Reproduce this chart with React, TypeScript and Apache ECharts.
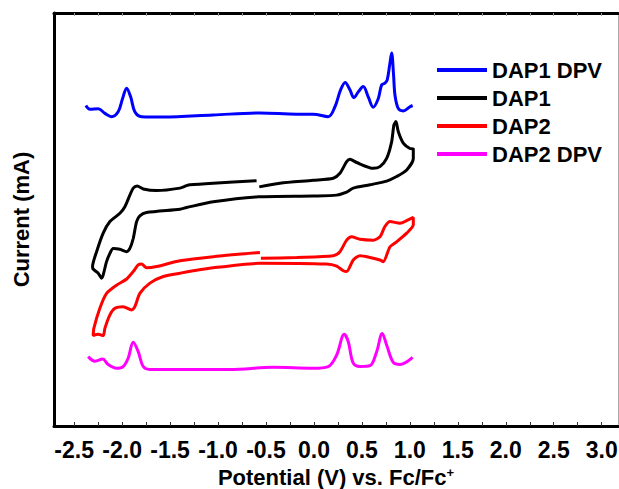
import React, { useEffect, useRef } from "react";
import * as echarts from "echarts";

// Potential (V vs Fc/Fc+) and current (arbitrary offset units)
const dap1DpvV = [-2.378, -2.336, -2.249, -2.179, -2.11, -2.041, -1.995, -1.953, -1.911, -1.867, -1.797, -1.571, -1.053, -0.563, -0.18, -0.007, 0.149, 0.219, 0.278, 0.326, 0.375, 0.417, 0.462, 0.514, 0.566, 0.618, 0.671, 0.706, 0.74, 0.764, 0.79, 0.81, 0.83, 0.845, 0.879, 0.931, 1.001, 1.029];
const dap1DpvI = [77.6, 76.7, 76.8, 75.7, 74.9, 76.1, 79.3, 81.8, 79.7, 76.1, 74.9, 74.8, 75.3, 75.8, 75.5, 75.5, 74.9, 77.3, 81.4, 83.2, 81.4, 79.5, 80.9, 82.2, 79.7, 77.2, 79.3, 82.6, 83.0, 83.8, 87.5, 90.3, 85.0, 80.1, 76.9, 76.3, 77.3, 77.6];

const dap1V = [-0.57, -0.355, -0.007, 0.201, 0.271, 0.341, 0.375, 0.445, 0.618, 0.688, 0.758, 0.81, 0.834, 0.855, 0.879, 0.931, 1.001, 1.036, 1.036, 0.967, 0.862, 0.758, 0.584, 0.41, 0.341, 0.237, -0.007, -0.581, -1.05, -1.328, -1.397, -1.745, -1.815, -1.849, -1.884, -1.919, -1.953, -2.023, -2.093, -2.127, -2.162, -2.197, -2.214, -2.249, -2.302, -2.308, -2.266, -2.197, -2.127, -2.023, -1.971, -1.919, -1.884, -1.843, -1.78, -1.64, -1.397, -1.328, -1.293, -1.05, -0.598];
const dap1I = [57.9, 58.8, 59.5, 60.0, 61.2, 64.0, 64.6, 63.8, 62.4, 62.8, 64.8, 68.8, 72.9, 73.7, 71.3, 68.5, 67.2, 67.1, 64.8, 62.0, 60.4, 59.3, 58.4, 57.6, 56.6, 55.9, 55.7, 55.5, 54.3, 52.9, 52.5, 51.7, 50.9, 49.5, 45.4, 43.0, 42.2, 42.8, 43.0, 41.8, 39.8, 36.6, 35.8, 37.0, 38.0, 38.6, 42.2, 46.7, 49.5, 51.5, 53.1, 55.9, 57.6, 58.1, 57.4, 57.0, 57.6, 58.2, 58.4, 58.8, 59.4];

const dap2V = [-0.553, -0.18, 0.201, 0.271, 0.341, 0.393, 0.48, 0.618, 0.688, 0.74, 0.793, 0.897, 0.983, 1.036, 1.036, 0.967, 0.862, 0.793, 0.723, 0.688, 0.584, 0.48, 0.41, 0.341, 0.306, 0.237, 0.132, -0.563, -1.05, -1.397, -1.571, -1.71, -1.815, -1.867, -1.901, -1.989, -2.075, -2.127, -2.179, -2.197, -2.249, -2.302, -2.294, -2.232, -2.162, -2.058, -1.953, -1.884, -1.832, -1.797, -1.745, -1.64, -1.397, -1.05, -0.563];
const dap2I = [40.6, 40.8, 41.2, 42.2, 45.0, 45.8, 45.2, 45.0, 45.8, 48.3, 49.5, 49.1, 49.9, 50.5, 48.7, 46.7, 44.6, 43.4, 39.8, 40.2, 40.8, 41.2, 40.2, 37.4, 37.6, 38.7, 39.2, 39.4, 38.3, 37.0, 36.2, 34.6, 32.1, 28.9, 28.1, 28.9, 28.5, 26.9, 23.7, 21.9, 22.2, 21.9, 23.7, 28.5, 32.1, 34.1, 35.6, 37.4, 39.0, 39.2, 38.3, 38.6, 40.0, 41.0, 42.0];

const dap2DpvV = [-2.354, -2.284, -2.203, -2.145, -2.058, -1.989, -1.937, -1.884, -1.832, -1.78, -1.71, -1.397, -0.876, -0.424, -0.007, 0.149, 0.237, 0.316, 0.358, 0.41, 0.48, 0.584, 0.654, 0.712, 0.758, 0.827, 0.897, 1.029];
const dap2DpvI = [16.8, 15.7, 16.2, 14.9, 14.0, 14.4, 16.4, 20.3, 18.0, 14.4, 13.7, 13.7, 13.7, 14.2, 14.0, 14.4, 17.2, 22.2, 20.4, 15.2, 14.4, 14.6, 18.0, 22.4, 19.6, 15.4, 14.9, 16.6];

const seriesNames = ["DAP1 DPV", "DAP1", "DAP2", "DAP2 DPV"];
const seriesColors = ["#0000FF", "#000000", "#FF0000", "#FF00FF"];

const xTickValues = [-2.5, -2.25, -2, -1.75, -1.5, -1.25, -1, -0.75, -0.5, -0.25, 0, 0.25, 0.5, 0.75, 1, 1.25, 1.5, 1.75, 2, 2.25, 2.5, 2.75, 3];
const xLabelValues = [-2.5, -2, -1.5, -1, -0.5, 0, 0.5, 1, 1.5, 2, 2.5, 3];

const FONT = "Arial, 'Liberation Sans', sans-serif";

function zip(xs: number[], ys: number[]) {
  return xs.map((x, i) => [x, ys[i]]);
}

export default function App() {
  const ref = useRef<HTMLDivElement>(null);
  useEffect(() => {
    if (!ref.current) return;
    const chart = echarts.init(ref.current, null, { renderer: "svg" });
    const data = [zip(dap1DpvV, dap1DpvI), zip(dap1V, dap1I), zip(dap2V, dap2I), zip(dap2DpvV, dap2DpvI)];
    const smooths = [0.35, 0.25, 0.25, 0.35];
    chart.setOption({
      animation: false,
      backgroundColor: "#ffffff",
      grid: { left: 54, right: 1, top: 13, bottom: 63, containLabel: false, outerBoundsMode: "none" },
      legend: {
        orient: "vertical",
        left: 437,
        top: 59,
        padding: 0,
        icon: "rect",
        itemWidth: 50,
        itemHeight: 4,
        itemGap: 6,
        data: seriesNames,
        textStyle: { fontFamily: FONT, fontWeight: "bold", fontSize: 22, color: "#000", lineHeight: 22 },
      },
      xAxis: [
        {
          type: "value",
          min: -2.71,
          max: 3.17,
          position: "bottom",
          name: "Potential (V) vs. Fc/Fc{sup|+}",
          nameLocation: "middle",
          nameGap: 35,
          nameTextStyle: {
            fontFamily: FONT,
            fontWeight: "bold",
            fontSize: 22,
            lineHeight: 24,
            color: "#000",
            rich: { sup: { fontFamily: FONT, fontWeight: "bold", fontSize: 13, lineHeight: 13, color: "#000", verticalAlign: "top" } },
          },
          splitLine: { show: false },
          axisLine: { show: true, onZero: false, lineStyle: { color: "#000", width: 3 } },
          axisTick: { show: true, inside: true, length: 4, customValues: xTickValues, lineStyle: { color: "#333", width: 1 } },
          axisLabel: {
            show: true,
            customValues: xLabelValues,
            margin: 12,
            fontFamily: FONT,
            fontWeight: "bold",
            fontSize: 23,
            color: "#000",
            formatter: (v: number) => v.toFixed(1),
          },
        },
        {
          type: "value",
          min: -2.71,
          max: 3.17,
          position: "top",
          splitLine: { show: false },
          axisLine: { show: true, onZero: false, lineStyle: { color: "#000", width: 3 } },
          axisTick: { show: true, inside: true, length: 3, customValues: xTickValues, lineStyle: { color: "#999", width: 1 } },
          axisLabel: { show: false },
        },
      ],
      yAxis: [
        {
          type: "value",
          min: 0,
          max: 100,
          position: "left",
          name: "Current (mA)",
          nameLocation: "middle",
          nameGap: 22,
          nameTextStyle: { fontFamily: FONT, fontWeight: "bold", fontSize: 22, color: "#000" },
          splitLine: { show: false },
          axisLine: { show: true, onZero: false, lineStyle: { color: "#000", width: 3 } },
          axisTick: { show: false },
          axisLabel: { show: false },
        },
        {
          type: "value",
          min: 0,
          max: 100,
          position: "right",
          splitLine: { show: false },
          axisLine: { show: true, onZero: false, lineStyle: { color: "#aaa", width: 1 } },
          axisTick: { show: false },
          axisLabel: { show: false },
        },
      ],
      series: seriesNames.map((name, i) => ({
        name,
        type: "line",
        data: data[i],
        symbol: "none",
        showSymbol: false,
        smooth: smooths[i],
        color: seriesColors[i],
        lineStyle: { color: seriesColors[i], width: 3 },
        itemStyle: { color: seriesColors[i] },
        xAxisIndex: 0,
        yAxisIndex: 0,
      })),
    });
    return () => chart.dispose();
  }, []);
  return <div ref={ref} style={{ width: 619, height: 489, position: "absolute", left: 0, top: 0 }} />;
}
